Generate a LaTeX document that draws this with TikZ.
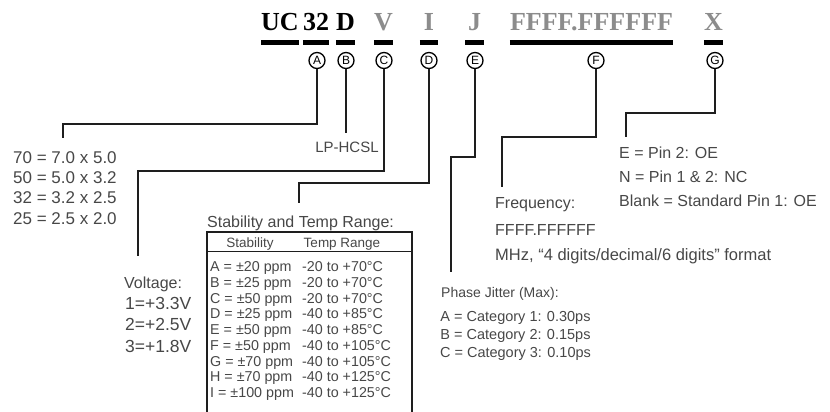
\documentclass[tikz,border=0pt]{standalone}
\usepackage{fontspec}
\setmainfont{Liberation Sans}
\newfontfamily\codeserif{Liberation Serif}
\usepackage{xcolor}
\definecolor{cInk}  {HTML}{474747}
\definecolor{cLine} {HTML}{1E1E1E}
\definecolor{cGrey} {HTML}{8C8C8C}
\usepackage{tikz}
\usetikzlibrary{positioning}
\tikzset{
  code/.style    = {anchor=base, inner sep=0pt, minimum width=18pt,
                    font=\codeserif\bfseries\fontsize{26}{26}\selectfont},
  codebar/.style = {draw=black, line width=5pt},
  tag/.style     = {circle, draw=black, line width=1.3pt, fill=white,
                    inner sep=0pt, minimum size=16pt,
                    font=\fontsize{12}{12}\selectfont},
  lead/.style    = {draw=cLine, line width=1.4pt},
  txt/.style     = {inner sep=0pt, text=cInk, text height=11.5pt,
                    text depth=3.5pt, font=\fontsize{16}{19}\selectfont},
  small/.style   = {txt, text height=10.5pt, text depth=3.2pt,
                    font=\fontsize{14.5}{17}\selectfont},
  cell/.style    = {inner sep=0pt, text=cInk, anchor=base west,
                    font=\fontsize{14.3}{16}\selectfont},
  frame/.style   = {draw=cLine, line width=1.2pt},
}

\begin{document}
\begin{tikzpicture}[x=1pt, y=-1pt]
  \useasboundingbox (0,0) rectangle (830,412);

  % part number
  \node[code]             (cUC) at (280,31)   {UC};
  \node[code]             (c32) at (316,31)   {32};
  \node[code]             (cD)  at (345.5,31) {D};
  \node[code, text=cGrey] (cV)  at (383.5,31) {V};
  \node[code, text=cGrey] (cI)  at (429,31)   {I};
  \node[code, text=cGrey] (cJ)  at (474.5,31) {J};
  \node[code, text=cGrey] (cF)  at (591.5,31) {FFFF.FFFFFF};
  \node[code, text=cGrey] (cX)  at (713.5,31) {X};

  \coordinate (barline) at (0,42.5);
  \foreach \c in {cUC,c32,cD,cV,cI,cJ,cF,cX}
    \draw[codebar] (\c.west |- barline) -- (\c.east |- barline);

  \node[tag] (tagA) at (317,60.5) {A};
  \node[tag] (tagB) at (346,60.5) {B};
  \node[tag] (tagC) at (384,60.5) {C};
  \node[tag] (tagD) at (429,60.5) {D};
  \node[tag] (tagE) at (475,60.5) {E};
  \node[tag] (tagF) at (596,60.5) {F};
  \node[tag] (tagG) at (715,60.5) {G};

  % A: package size
  \node[txt, font=\fontsize{17}{19}\selectfont, anchor=base west] (sz70) at (13,163) {70 = 7.0 x 5.0};
  \node[txt, font=\fontsize{17}{19}\selectfont, below right=5pt and 0pt of sz70.south west] (sz50) {50 = 5.0 x 3.2};
  \node[txt, font=\fontsize{17}{19}\selectfont, below right=5pt and 0pt of sz50.south west] (sz32) {32 = 3.2 x 2.5};
  \node[txt, font=\fontsize{17}{19}\selectfont, below right=5pt and 0pt of sz32.south west] (sz25) {25 = 2.5 x 2.0};

  % B: output
  \node[txt, font=\fontsize{15}{19}\selectfont, anchor=base] (lphcsl) at (347,152) {LP-HCSL};

  % C: voltage
  \node[txt, anchor=base west] (volt) at (124,288) {Voltage:};
  \node[txt, font=\fontsize{17.5}{19}\selectfont, below right=6pt and 1pt of volt.south west] (v33) {1=+3.3V};
  \node[txt, font=\fontsize{17.5}{19}\selectfont, below right=6pt and 0pt of v33.south west]  (v25) {2=+2.5V};
  \node[txt, font=\fontsize{17.5}{19}\selectfont, below right=6pt and 0pt of v25.south west]  (v18) {3=+1.8V};

  % D: stability table
  \node[txt, anchor=base west] (stabT) at (207,227) {Stability and Temp Range:};
  \coordinate (tblNW) at (207,232);
  \coordinate (tblNE) at (412,232);
  \coordinate (tblSW) at (207,412);
  \coordinate (tblSE) at (412,412);
  \draw[frame] (tblSW) -- (tblNW) -- (tblNE) -- (tblSE);
  \draw[frame, line width=1pt] (tblNW |- 0,251) -- (tblNE |- 0,251);
  \node[cell, anchor=base, font=\fontsize{13.5}{15}\selectfont] (hStab) at (250,247) {Stability};
  \node[cell, anchor=base, font=\fontsize{13.5}{15}\selectfont] (hTemp) at (342,247) {Temp Range};
  \foreach \s/\t [count=\i from 0] in {%
      A = ±20 ppm/-20 to +70°C, B = ±25 ppm/-20 to +70°C,
      C = ±50 ppm/-20 to +70°C, D = ±25 ppm/-40 to +85°C,
      E = ±50 ppm/-40 to +85°C, F = ±50 ppm/-40 to +105°C,
      G = ±70 ppm/-40 to +105°C, H = ±70 ppm/-40 to +125°C,
      I = ±100 ppm/-40 to +125°C} {
    \node[cell] (s\i) at (210,271.5+15.75*\i) {\s};
    \node[cell] (t\i) at (302,271.5+15.75*\i) {\t};
  }

  % E: phase jitter
  \node[small, font=\fontsize{14}{17}\selectfont, anchor=base west] (pj) at (441,297) {Phase Jitter (Max):};
  \node[small, anchor=base] (pjA) at (515.5,321) {A = Category 1: 0.30ps};
  \node[small, below=4.3pt of pjA] (pjB) {B = Category 2: 0.15ps};
  \node[small, below=4.3pt of pjB] (pjC) {C = Category 3: 0.10ps};

  % F: frequency
  \node[txt, anchor=base west] (freq) at (495,208) {Frequency:};
  \node[txt, below right=12pt and 0pt of freq.south west] (fval) {FFFF.FFFFFF};
  \node[txt, font=\fontsize{16.5}{19}\selectfont, below right=10pt and 0pt of fval.south west] (fmt)
        {MHz, “4 digits/decimal/6 digits” format};

  % G: output enable
  \node[txt, anchor=base west] (oeE) at (619,158) {E = Pin 2: OE};
  \node[txt, below right=9pt and 0pt of oeE.south west] (oeN) {N = Pin 1 \& 2: NC};
  \node[txt, below right=9pt and 0pt of oeN.south west] (oeB) {Blank = Standard Pin 1: OE};

  % leads
  \coordinate (endA) at (63,138);
  \coordinate (endB) at (346,133);
  \coordinate (endC) at (138,256);
  \coordinate (endD) at (299,203);
  \coordinate (endE) at (451,272);
  \coordinate (endF) at (502,187);
  \coordinate (endG) at (626,137);
  \draw[lead] (tagA) |- ([yshift=14pt]endA) -- (endA);
  \draw[lead] (tagB) -- (endB);
  \draw[lead] (tagC) |- ([yshift=85pt]endC) -- (endC);
  \draw[lead] (tagD) |- ([yshift=20pt]endD) -- (endD);
  \draw[lead] (tagE) |- ([yshift=115pt]endE) -- (endE);
  \draw[lead] (tagF) |- ([yshift=50pt]endF) -- (endF);
  \draw[lead] (tagG) |- ([yshift=24pt]endG) -- (endG);

\end{tikzpicture}
\end{document}
